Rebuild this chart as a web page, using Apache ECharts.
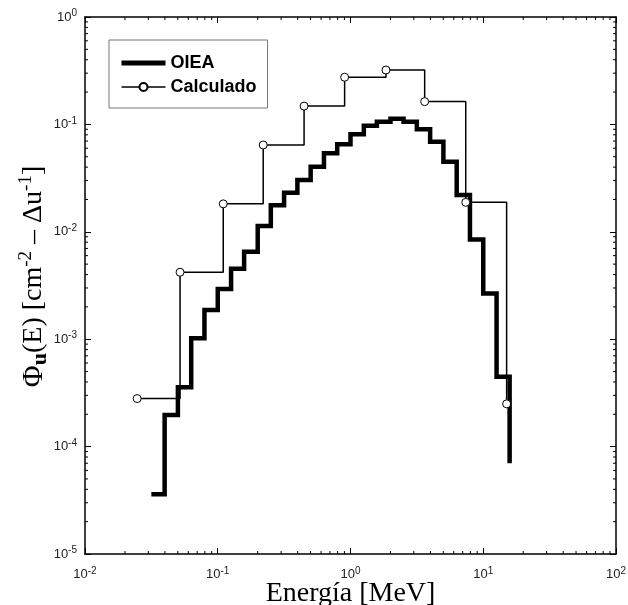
<!DOCTYPE html>
<html>
<head>
<meta charset="utf-8">
<script src="https://cdn.jsdelivr.net/npm/echarts@6/dist/echarts.min.js"></script>
<style>html,body{margin:0;padding:0;background:#fff}#c{width:628px;height:605px}</style>
</head>
<body>
<div id="c"></div>
<script>
// OIEA group structure (left bin edges, last = upper edge) and values
const oieaEnergy = [0.0316, 0.0398, 0.0501, 0.0631, 0.0794, 0.1, 0.126, 0.158, 0.2, 0.251, 0.316, 0.398, 0.501, 0.631, 0.794, 1.0, 1.26, 1.58, 2.0, 2.51, 3.16, 3.98, 5.01, 6.31, 7.94, 10.0, 12.6, 15.8];
const oieaFlux = [3.6e-5, 1.97e-4, 3.56e-4, 1.02e-3, 1.87e-3, 2.93e-3, 4.53e-3, 6.53e-3, 0.0113, 0.0177, 0.0231, 0.0303, 0.0404, 0.0538, 0.0653, 0.081, 0.097, 0.106, 0.113, 0.106, 0.090, 0.069, 0.045, 0.022, 8.5e-3, 2.67e-3, 4.48e-4, 7.0e-5];
// Calculated values
const calcEnergy = [0.0247, 0.052, 0.110, 0.220, 0.447, 0.903, 1.85, 3.62, 7.38, 15.0];
const calcFlux = [2.8e-4, 4.2e-3, 0.0182, 0.0643, 0.148, 0.275, 0.321, 0.163, 0.0188, 2.5e-4];
// Axis tick labels (exponents)
const xDecades = [-2, -1, 0, 1, 2];
const yDecades = [-5, -4, -3, -2, -1, 0];

const xMin = Math.pow(10, xDecades[0]), xMax = Math.pow(10, xDecades[xDecades.length - 1]);
const yMin = Math.pow(10, yDecades[0]), yMax = Math.pow(10, yDecades[yDecades.length - 1]);

// minor tick positions (2..9 within each decade)
const minorData = [];
for (let i = 0; i < xDecades.length - 1; i++) for (let m = 2; m <= 9; m++) minorData.push([m * Math.pow(10, xDecades[i]), yMin, 0]);
for (let i = 0; i < yDecades.length - 1; i++) for (let m = 2; m <= 9; m++) minorData.push([xMin, m * Math.pow(10, yDecades[i]), 1]);

const oieaData = oieaEnergy.map((e, i) => [e, oieaFlux[i]]);
const calcData = calcEnergy.map((e, i) => [e, calcFlux[i]]);

const sans = 'Liberation Sans, Arial, sans-serif';
const serif = 'Liberation Serif, Times New Roman, serif';
function expLabel(v) {
  const e = Math.round(Math.log10(v));
  return '{b|10}{s|' + e + '}';
}
const labelRich = {
  b: { fontFamily: sans, fontSize: 13, color: '#222', lineHeight: 17 },
  s: { fontFamily: sans, fontSize: 10, color: '#222', lineHeight: 11, verticalAlign: 'top' }
};
const axisLine = { show: true, lineStyle: { color: '#000', width: 1.5 } };
const axisTick = { show: true, inside: true, length: 6, lineStyle: { color: '#000', width: 1 } };

const chart = echarts.init(document.getElementById('c'), null, { renderer: 'canvas' });
chart.setOption({
  animation: false,
  backgroundColor: '#fff',
  grid: { left: 85, right: 12, top: 17, bottom: 51, containLabel: false, outerBoundsMode: 'none' },
  legend: {
    orient: 'vertical', left: 109, top: 40,
    borderColor: '#777', borderWidth: 1, borderRadius: 0,
    padding: [13, 11, 11, 10], itemGap: 4, itemWidth: 44, itemHeight: 10,
    textStyle: { fontFamily: sans, fontWeight: 'bold', fontSize: 18, lineHeight: 20, color: '#000' },
    data: [
      { name: 'OIEA', lineStyle: { width: 5, color: '#000' }, itemStyle: { opacity: 0 } },
      { name: 'Calculado', lineStyle: { width: 1.5, color: '#000' } }
    ]
  },
  xAxis: [{
    type: 'log', logBase: 10, min: xMin, max: xMax, position: 'bottom',
    axisLine, axisTick, splitLine: { show: false },
    axisLabel: { formatter: expLabel, rich: labelRich, margin: 12, showMinLabel: true, showMaxLabel: true },
    name: 'Energía [MeV]', nameLocation: 'middle', nameGap: 26, nameMoveOverlap: false,
    nameTextStyle: { fontFamily: serif, fontSize: 28, color: '#000' }
  }, {
    type: 'log', logBase: 10, min: xMin, max: xMax, position: 'top',
    axisLine, axisTick, axisLabel: { show: false }, splitLine: { show: false }
  }],
  yAxis: [{
    type: 'log', logBase: 10, min: yMin, max: yMax, position: 'left',
    axisLine, axisTick, splitLine: { show: false },
    axisLabel: { formatter: expLabel, rich: labelRich, margin: 8, showMinLabel: true, showMaxLabel: true },
    name: '{phi|Φ}{sub|u}{t|(E) [cm}{sup|-2}{t| – Δu}{sup|-1}{t|]}',
    nameLocation: 'middle', nameGap: 34, nameMoveOverlap: false,
    nameTextStyle: {
      padding: [0, 0, 0, 18],
      rich: {
        phi: { fontFamily: serif, fontSize: 30, color: '#000', lineHeight: 34 },
        sub: { fontFamily: serif, fontSize: 22, fontWeight: 'bold', color: '#000', lineHeight: 26, verticalAlign: 'bottom' },
        t: { fontFamily: serif, fontSize: 28, color: '#000', lineHeight: 34 },
        sup: { fontFamily: serif, fontSize: 19, color: '#000', lineHeight: 20, verticalAlign: 'top' }
      }
    }
  }, {
    type: 'log', logBase: 10, min: yMin, max: yMax, position: 'right',
    axisLine, axisTick, axisLabel: { show: false }, splitLine: { show: false }
  }],
  series: [{
    name: 'minor', type: 'custom', silent: true, clip: false, z: 1,
    xAxisIndex: 0, yAxisIndex: 0, data: minorData,
    renderItem: function (params, api) {
      const t = api.value(2);
      const st = { stroke: '#000', lineWidth: 1 };
      if (t === 0) {
        const v = api.value(0);
        const p1 = api.coord([v, yMin]), p2 = api.coord([v, yMax]);
        return { type: 'group', children: [
          { type: 'line', shape: { x1: p1[0], y1: p1[1], x2: p1[0], y2: p1[1] - 3 }, style: st },
          { type: 'line', shape: { x1: p2[0], y1: p2[1], x2: p2[0], y2: p2[1] + 3 }, style: st }
        ] };
      } else {
        const w = api.value(1);
        const p1 = api.coord([xMin, w]), p2 = api.coord([xMax, w]);
        return { type: 'group', children: [
          { type: 'line', shape: { x1: p1[0], y1: p1[1], x2: p1[0] + 3, y2: p1[1] }, style: st },
          { type: 'line', shape: { x1: p2[0], y1: p2[1], x2: p2[0] - 3, y2: p2[1] }, style: st }
        ] };
      }
    }
  }, {
    name: 'OIEA', type: 'line', step: 'end', data: oieaData,
    symbol: 'none', z: 3,
    lineStyle: { color: '#000', width: 4.5, cap: 'butt', join: 'miter' },
    itemStyle: { color: '#000' }
  }, {
    name: 'Calculado', type: 'line', step: 'end', data: calcData,
    symbol: 'circle', symbolSize: 8, z: 4,
    lineStyle: { color: '#000', width: 1.5 },
    itemStyle: { color: '#fff', borderColor: '#000', borderWidth: 1 }
  }]
});
</script>
</body>
</html>
